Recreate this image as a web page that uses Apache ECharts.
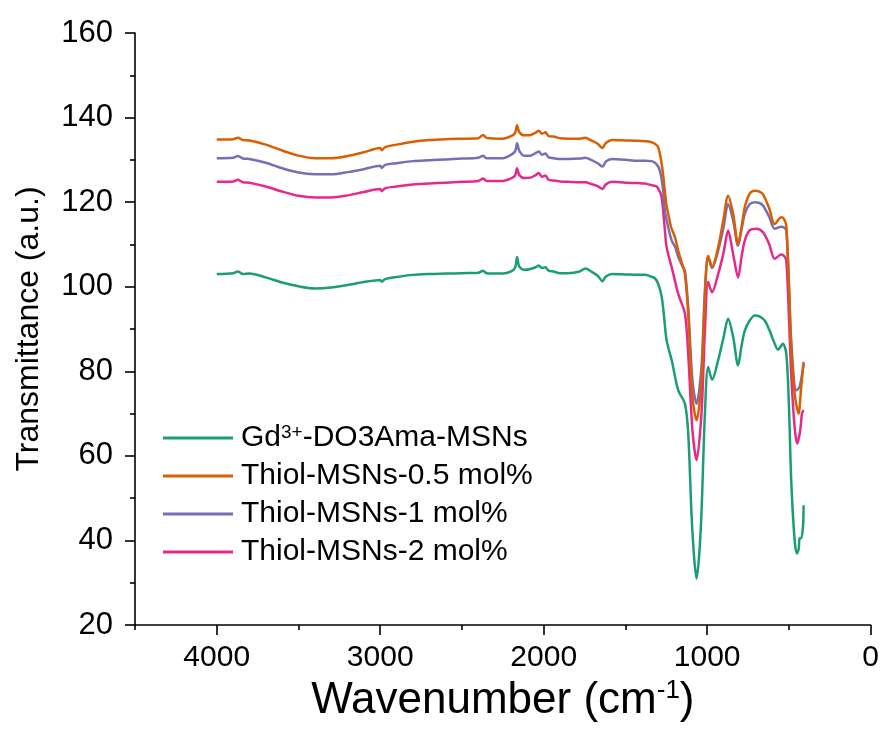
<!DOCTYPE html>
<html>
<head>
<meta charset="utf-8">
<script src="https://cdn.jsdelivr.net/npm/echarts@6/dist/echarts.min.js"></script>
<style>
  html, body { margin: 0; padding: 0; background: #fff; }
  #chart { width: 882px; height: 729px; }
</style>
</head>
<body>
<div id="chart"></div>
<script>
// FTIR spectra: [wavenumber (cm-1), transmittance (a.u.)]
const gdDO3AmaMSNs = [
  [4000,103.0],[3900,103.2],[3870,103.6],[3840,103.0],[3800,103.1],[3700,102.2],[3600,101.0],
  [3500,100.1],[3400,99.6],[3300,99.8],[3200,100.4],[3100,101.1],[3000,101.6],[2990,101.2],
  [2970,101.8],[2900,102.3],[2800,102.8],[2700,103.0],[2600,103.1],[2500,103.2],[2400,103.3],
  [2370,103.8],[2350,103.2],[2250,103.1],[2200,103.6],[2175,104.5],[2163,107.0],[2150,104.8],
  [2120,104.0],[2080,104.2],[2050,104.6],[2030,105.0],[2010,104.4],[1990,104.6],[1970,103.8],
  [1940,103.6],[1900,103.2],[1850,103.2],[1780,103.6],[1745,104.3],[1710,103.6],[1670,102.6],
  [1640,101.3],[1620,102.4],[1580,103.0],[1500,102.9],[1420,102.8],[1380,102.8],[1350,102.5],
  [1320,102.0],[1300,100.7],[1280,98.0],[1268,94.5],[1248,87.3],[1217,82.6],[1177,75.5],
  [1136,72.3],[1116,65.3],[1096,46.4],[1080,36.0],[1065,31.0],[1050,36.0],[1035,46.4],
  [1014,70.0],[994,81.0],[970,78.0],[933,82.6],[900,88.0],[872,92.4],[841,88.1],[811,81.4],
  [790,86.0],[770,89.6],[740,92.0],[709,93.2],[680,93.0],[648,92.0],[620,89.8],[587,86.5],
  [567,85.1],[537,86.5],[516,84.1],[500,72.0],[486,54.2],[465,40.0],[451,36.9],[440,38.0],
  [435,40.5],[425,40.5],[414,43.2],[410,48.3]
];
const thiol05 = [
  [4000,134.8],[3900,134.9],[3870,135.2],[3840,134.7],[3800,134.6],[3700,133.6],[3600,132.2],
  [3500,131.0],[3400,130.4],[3300,130.4],[3200,130.9],[3100,131.8],[3000,132.8],[2990,132.3],
  [2970,133.0],[2900,133.6],[2800,134.3],[2700,134.7],[2600,134.9],[2500,135.0],[2400,135.1],
  [2370,135.9],[2350,135.2],[2250,135.0],[2200,135.6],[2175,136.4],[2163,138.2],[2150,136.6],
  [2120,135.8],[2080,135.9],[2050,136.4],[2030,136.9],[2010,136.2],[1990,136.5],[1970,135.6],
  [1940,135.5],[1900,135.1],[1850,135.0],[1780,135.0],[1745,135.2],[1710,134.6],[1670,133.8],
  [1640,132.8],[1620,134.0],[1580,134.7],[1500,134.6],[1420,134.5],[1380,134.4],[1350,134.3],
  [1320,133.8],[1300,133.0],[1280,129.5],[1268,126.0],[1250,119.5],[1238,117.2],[1220,114.0],
  [1197,111.7],[1177,108.5],[1150,105.0],[1136,103.0],[1116,93.6],[1090,73.9],[1065,68.4],
  [1035,77.8],[1014,97.5],[994,107.3],[970,104.7],[933,109.3],[900,116.0],[872,121.5],
  [841,117.2],[811,110.1],[790,114.0],[770,118.8],[740,122.0],[709,122.7],[680,122.5],
  [659,121.9],[620,118.5],[587,114.8],[547,116.4],[530,116.0],[516,114.4],[500,101.0],
  [486,85.7],[465,74.7],[441,70.0],[425,76.3],[410,82.2]
];
const thiol1 = [
  [4000,130.4],[3900,130.5],[3870,130.9],[3840,130.3],[3800,130.2],[3700,129.3],[3600,128.0],
  [3500,127.0],[3400,126.6],[3300,126.6],[3200,127.1],[3100,127.8],[3000,128.6],[2990,128.1],
  [2970,128.8],[2900,129.2],[2800,129.7],[2700,129.9],[2600,130.1],[2500,130.3],[2400,130.5],
  [2370,131.0],[2350,130.4],[2250,130.4],[2200,131.2],[2175,132.0],[2163,133.9],[2150,132.2],
  [2120,131.0],[2080,131.0],[2050,131.6],[2030,132.0],[2010,131.2],[1990,131.5],[1970,130.6],
  [1940,130.4],[1900,130.2],[1850,130.2],[1780,130.3],[1745,130.5],[1710,130.0],[1670,129.2],
  [1640,128.4],[1620,129.6],[1580,130.2],[1500,130.0],[1420,129.8],[1380,129.8],[1340,129.7],
  [1310,129.0],[1289,127.4],[1270,123.0],[1259,118.0],[1238,114.0],[1217,110.9],[1197,109.5],
  [1177,107.0],[1150,104.8],[1136,103.8],[1116,95.1],[1090,77.8],[1065,72.3],[1035,81.0],
  [1014,99.1],[994,107.0],[970,104.4],[933,108.5],[900,114.0],[872,119.5],[841,115.6],
  [811,109.7],[790,113.5],[770,117.2],[740,119.5],[709,120.0],[680,119.8],[659,119.2],
  [620,116.5],[587,113.7],[547,114.2],[530,114.0],[516,113.3],[500,100.0],[486,87.3],
  [455,75.5],[435,76.3],[410,81.8]
];
const thiol2 = [
  [4000,124.8],[3900,124.9],[3870,125.3],[3840,124.7],[3800,124.6],[3700,123.7],[3600,122.5],
  [3500,121.5],[3400,121.1],[3300,121.1],[3200,121.6],[3100,122.4],[3000,123.1],[2990,122.6],
  [2970,123.3],[2900,123.7],[2800,124.2],[2700,124.4],[2600,124.6],[2500,124.8],[2400,125.0],
  [2370,125.6],[2350,125.0],[2250,125.0],[2200,125.6],[2175,126.3],[2163,128.0],[2150,126.5],
  [2120,125.7],[2080,125.8],[2050,126.4],[2030,126.9],[2010,126.0],[1990,126.3],[1970,125.3],
  [1940,125.1],[1900,124.9],[1850,124.8],[1780,124.7],[1745,124.7],[1710,124.3],[1670,123.8],
  [1640,123.1],[1620,124.2],[1580,124.8],[1500,124.6],[1420,124.5],[1380,124.4],[1340,124.0],
  [1309,123.7],[1290,122.5],[1278,121.1],[1260,114.0],[1248,109.3],[1217,104.6],[1177,98.3],
  [1136,93.6],[1116,84.1],[1090,66.0],[1065,59.0],[1035,70.0],[1014,89.6],[994,101.1],
  [970,98.7],[933,103.0],[900,108.0],[872,113.3],[841,107.7],[811,102.2],[790,107.0],
  [770,110.9],[740,113.3],[700,113.7],[659,112.9],[620,110.0],[587,106.6],[547,107.6],
  [530,107.3],[516,106.2],[500,93.0],[486,79.4],[465,66.8],[449,62.9],[431,66.0],[420,70.0],
  [410,70.8]
];

const seriesNames = ['Gd3+-DO3Ama-MSNs', 'Thiol-MSNs-0.5 mol%', 'Thiol-MSNs-1 mol%', 'Thiol-MSNs-2 mol%'];
const seriesData = [gdDO3AmaMSNs, thiol05, thiol1, thiol2];
const seriesColors = ['#1b9e77', '#d95f02', '#7570b3', '#e7298a'];

const xMajorTicks = [0, 1000, 2000, 3000, 4000];
const xMinorTicks = [500, 1500, 2500, 3500, 4500];

const FONT = '"Liberation Sans", Arial, sans-serif';

const chart = echarts.init(document.getElementById('chart'));

chart.setOption({
  animation: false,
  backgroundColor: '#ffffff',
  grid: { left: 135, right: 9, top: 33, bottom: 104, containLabel: false },
  legend: {
    orient: 'vertical',
    left: 163,
    top: 423,
    padding: 0,
    icon: 'rect',
    itemWidth: 70,
    itemHeight: 3,
    itemGap: 8,
    data: seriesNames,
    formatter: function (name) {
      if (name === 'Gd3+-DO3Ama-MSNs') return '{n|Gd}{sup|3+}{n|-DO3Ama-MSNs}';
      return '{n|' + name + '}';
    },
    textStyle: {
      fontFamily: FONT,
      fontSize: 30,
      color: '#000',
      padding: [0, 0, 0, 3],
      rich: {
        n: { fontFamily: FONT, fontSize: 30, color: '#000', lineHeight: 30 },
        sup: { fontFamily: FONT, fontSize: 19, color: '#000', lineHeight: 16, verticalAlign: 'top' }
      }
    }
  },
  xAxis: [
    {
      type: 'value',
      inverse: true,
      min: 0,
      max: 4500,
      position: 'bottom',
      name: '{n|Wavenumber (cm}{sup|-1}{n|)}',
      nameLocation: 'middle',
      nameGap: 52,
      nameTextStyle: {
        fontFamily: FONT,
        fontSize: 44,
        color: '#000',
        rich: {
          n: { fontFamily: FONT, fontSize: 44, color: '#000', lineHeight: 46 },
          sup: { fontFamily: FONT, fontSize: 26, color: '#000', lineHeight: 28, verticalAlign: 'top' }
        }
      },
      splitLine: { show: false },
      axisLine: { show: true, onZero: false, lineStyle: { color: '#000', width: 1.6 } },
      axisTick: { show: true, inside: false, length: 10, customValues: xMajorTicks, lineStyle: { color: '#000', width: 1.6 } },
      axisLabel: {
        show: true, customValues: xMajorTicks, margin: 18, fontFamily: FONT, fontSize: 30, color: '#000',
        formatter: function (v) { return String(v); }
      }
    },
    {
      type: 'value',
      inverse: true,
      min: 0,
      max: 4500,
      position: 'bottom',
      splitLine: { show: false },
      axisLine: { show: false, onZero: false },
      axisTick: { show: true, inside: false, length: 5, customValues: xMinorTicks, lineStyle: { color: '#000', width: 1.6 } },
      axisLabel: { show: false }
    }
  ],
  yAxis: {
    type: 'value',
    position: 'left',
    min: 20,
    max: 160,
    interval: 20,
    name: 'Transmittance (a.u.)',
    nameLocation: 'middle',
    nameGap: 90,
    nameTextStyle: { fontFamily: FONT, fontSize: 32, color: '#000' },
    splitLine: { show: false },
    axisLine: { show: true, onZero: false, lineStyle: { color: '#000', width: 1.6 } },
    axisTick: { show: true, inside: false, length: 10, lineStyle: { color: '#000', width: 1.6 } },
    minorTick: { show: true, splitNumber: 2, length: 5, lineStyle: { color: '#000', width: 1.6 } },
    axisLabel: { margin: 22, fontFamily: FONT, fontSize: 31, color: '#000' }
  },
  series: seriesNames.map(function (name, i) {
    return {
      name: name,
      type: 'line',
      xAxisIndex: 0,
      data: seriesData[i],
      showSymbol: false,
      symbol: 'none',
      smooth: 0.3,
      color: seriesColors[i],
      lineStyle: { color: seriesColors[i], width: 2.5 },
      z: 2 + (3 - i)
    };
  })
});
</script>
</body>
</html>
